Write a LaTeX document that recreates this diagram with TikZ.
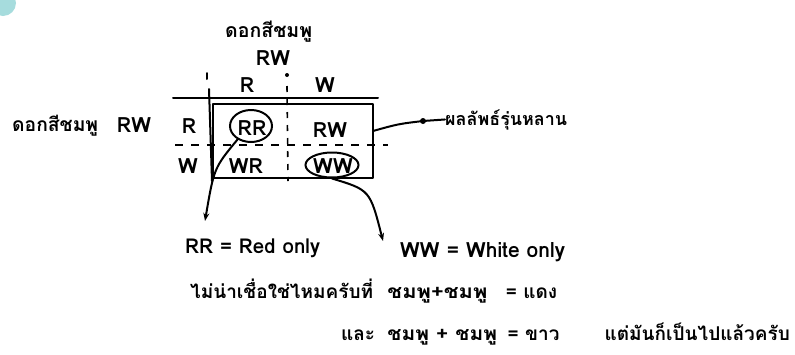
\documentclass[tikz,border=0pt]{standalone}
\usepackage{graphicx}
\usepackage{fontspec}
\setmainfont{Loma}[Script=Thai]
\newfontfamily\thaifont[Script=Thai]{Loma}
\usetikzlibrary{arrows.meta,shapes.geometric}
\definecolor{tealdot}{HTML}{A6DCDD}
\newcommand{\fitw}[2]{\resizebox{#1}{!}{#2}}
\newcommand{\wider}[2]{\scalebox{#1}[1]{#2}}
\tikzset{
  ink/.style={line width=2pt, line cap=round, line join=round},
  dashv/.style={line width=1.6pt, dash pattern=on 6pt off 7pt},
  dashh/.style={line width=1.6pt, dash pattern=on 8pt off 8pt},
  txt/.style={inner sep=0pt, font=\thaifont\bfseries\fontsize{21}{23}\selectfont},
  long/.style={inner sep=0pt, anchor=base west, font=\thaifont\bfseries\fontsize{16}{18}\selectfont},
  thl/.style={inner sep=0pt, anchor=base west, font=\thaifont\bfseries\fontsize{19}{21}\selectfont},
  ring/.style={ellipse, draw, line width=2pt, inner sep=0pt},
  arr/.style={ink, -{Stealth[length=8pt,width=6pt]}},
}
\begin{document}
\begin{tikzpicture}[x=1pt,y=-1pt]
\useasboundingbox (0,0) rectangle (795,354);
\clip (0,0) rectangle (795,354);
\fill[tealdot] (3,3) circle (13);
% headers
\node[long] (top1) at (225,37) {\fitw{87pt}{ดอกสีชมพู}};
\node[txt,anchor=base] (top2) at (273,65) {RW};
\node[txt,anchor=base] (hR) at (247,92) {R};
\node[txt,anchor=base] (hW) at (325,92) {W};
\node[long] (left1) at (12,131) {\fitw{86pt}{ดอกสีชมพู}};
\node[txt,anchor=base] (left2) at (134,132) {RW};
\node[txt,anchor=base] (rR) at (189,133) {R};
\node[txt,anchor=base] (rW) at (188,173) {W};
% grid
\coordinate (hl1) at (173,98); \coordinate (hl2) at (378,98);
\draw[ink] (hl1) -- (hl2);
\coordinate (lv0) at (207,73); \coordinate (lv0b) at (207,79);
\draw[ink] (lv0) -- (lv0b);
\coordinate (lv1) at (209,89); \coordinate (lv2) at (212,181);
\draw[ink] (lv1) -- (lv2);
\fill (287,75) circle (2);
\coordinate (mv1) at (287,86); \coordinate (mv2) at (288,181);
\draw[dashv] (mv1) -- (mv2);
\coordinate (mh1) at (175,145); \coordinate (mh2) at (388,145);
\draw[dashh] (mh1) -- (mh2);
\coordinate (bx1) at (213,104); \coordinate (bx2) at (373,178);
\draw[ink] (bx1) rectangle (bx2);
% cells
\node[ring,minimum width=42pt,minimum height=32pt] (eRR) at (251,126) {};
\node[txt,anchor=base] (cRR) at (252,135) {RR};
\node[txt,anchor=base] (cRW) at (330,137) {RW};
\node[txt,anchor=base] (cWR) at (246,173) {WR};
\node[ring,minimum width=53pt,minimum height=25pt] (eWW) at (332,165) {};
\node[txt,anchor=base] (cWW) at (333,173) {WW};
% right label
\coordinate (bxe) at (373,131);
\coordinate (dot) at (423,121);
\node[long] (res) at (445,125) {\fitw{122pt}{ผลลัพธ์รุ่นหลาน}};
\draw[ink] (bxe) .. controls (398,124) .. (dot) -- (res.west);
\fill (dot) circle (3);
% arrows
\coordinate (arrR) at (205,221);
\coordinate (arrW) at (383,241);
\draw[arr] (eRR.225) .. controls (214,168) .. (arrR);
\draw[arr] (eWW.south) .. controls (370,190) .. (arrW);
\node[long] (lab1) at (185,253) {\fitw{135pt}{RR = Red only}};
\node[long] (lab2) at (400,257) {\fitw{165pt}{WW = White only}};
% bottom lines
\coordinate (l3y) at (0,340);
\node[thl] (l2a) at (190,298) {ไม่น่าเชื่อใช่ไหมครับที่};
\node[thl] (l2b) at ([xshift=14pt]l2a.base east) {\wider{1.15}{ชมพู+ชมพู}};
\node[thl] (l2c) at ([xshift=18pt]l2b.base east) {= แดง};
\node[thl] (l3b) at (l2b.base west |- l3y) {\wider{1.1}{ชมพู + ชมพู}};
\node[thl,anchor=base east] (l3a) at ([xshift=-12pt]l3b.base west) {และ};
\node[thl] (l3c) at ([xshift=10pt]l3b.base east) {= ขาว};
\node[thl,anchor=base east] (l4) at (790,340) {แต่มันก็เป็นไปแล้วครับ};
\end{tikzpicture}
\end{document}
